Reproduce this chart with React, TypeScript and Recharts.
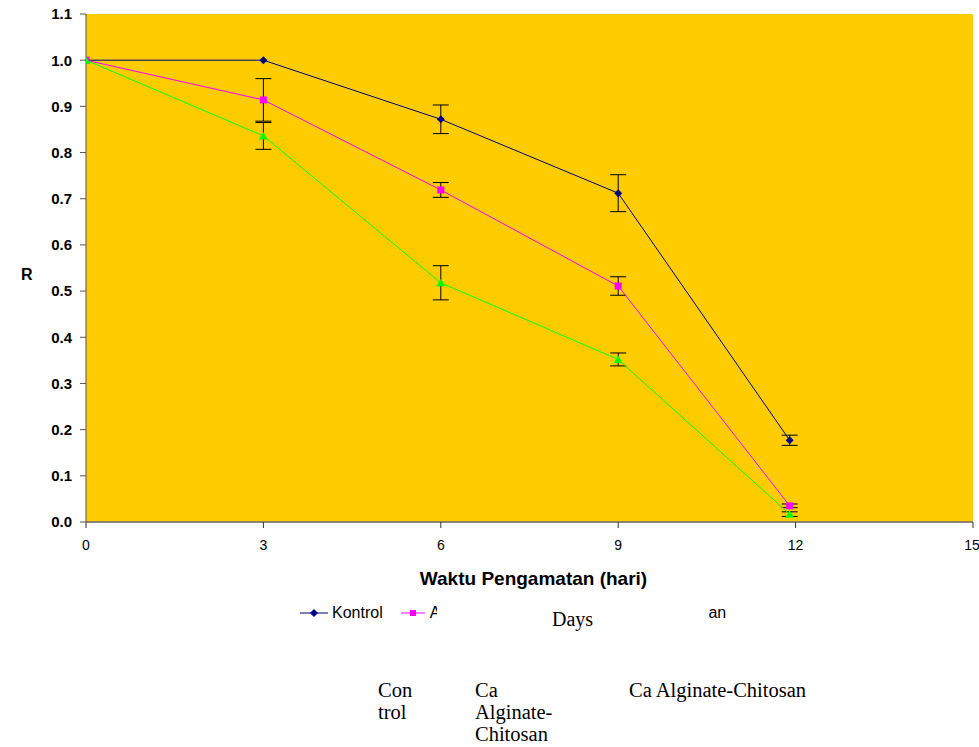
import React from "react";
import {
  LineChart,
  Line,
  XAxis,
  YAxis,
  CartesianGrid,
  ErrorBar,
} from "recharts";

// observation days (last point sits a touch left of 12 in the original)
const days = [0, 3, 6, 9, 11.9];

const kontrol = [1.0, 1.0, 0.872, 0.712, 0.177];
const kontrolSd = [0, 0, 0.031, 0.04, 0.011];

const alginat = [1.0, 0.914, 0.719, 0.511, 0.035];
const alginatSd = [0, 0.046, 0.016, 0.02, 0.004];

const alginatKitosan = [1.0, 0.836, 0.518, 0.352, 0.017];
const alginatKitosanSd = [0, 0.029, 0.037, 0.014, 0.005];

const xTicks = [0, 3, 6, 9, 12, 15];
const yTicks = [0, 0.1, 0.2, 0.3, 0.4, 0.5, 0.6, 0.7, 0.8, 0.9, 1.0, 1.1];

const legendNames = ["Kontrol", "Alginat", "Alginat-Kitosan"];

const toSeries = (vals: number[], sd: number[]) =>
  days.map((d, i) => ({ day: d, value: vals[i], sd: sd[i] }));

const NAVY = "#000080";
const MAGENTA = "#FF00FF";
const GREEN = "#00FF00";

const Diamond = (props: any) => {
  const { cx, cy, index } = props;
  if (cx == null || cy == null) return <g key={`d-${index}`} />;
  return (
    <polygon
      key={`d-${index}`}
      points={`${cx},${cy - 4} ${cx + 4},${cy} ${cx},${cy + 4} ${cx - 4},${cy}`}
      fill={NAVY}
    />
  );
};

const Square = (props: any) => {
  const { cx, cy, index } = props;
  if (cx == null || cy == null) return <g key={`s-${index}`} />;
  return <rect key={`s-${index}`} x={cx - 3.5} y={cy - 3.5} width={7} height={7} fill={MAGENTA} />;
};

const Triangle = (props: any) => {
  const { cx, cy, index } = props;
  if (cx == null || cy == null) return <g key={`t-${index}`} />;
  return (
    <polygon
      key={`t-${index}`}
      points={`${cx},${cy - 4} ${cx + 4.5},${cy + 3.5} ${cx - 4.5},${cy + 3.5}`}
      fill={GREEN}
    />
  );
};

function LegendMark({ color, shape, width }: { color: string; shape: string; width: number }) {
  const c = width / 2;
  return (
    <svg width={width} height={10} style={{ display: "block" }}>
      <line x1={0} y1={5} x2={width} y2={5} stroke={color} strokeWidth={1} />
      {shape === "diamond" && (
        <polygon points={`${c},1 ${c + 4},5 ${c},9 ${c - 4},5`} fill={color} />
      )}
      {shape === "square" && <rect x={c - 3} y={2} width={6} height={6} fill={color} />}
      {shape === "triangle" && (
        <polygon points={`${c},1 ${c + 4},8 ${c - 4},8`} fill={color} />
      )}
    </svg>
  );
}

const serif = "'Liberation Serif', 'Times New Roman', serif";
const sans = "'Liberation Sans', Arial, sans-serif";

const noteStyle: React.CSSProperties = {
  position: "absolute",
  top: 679,
  fontFamily: serif,
  fontSize: 20.5,
  lineHeight: "22px",
  whiteSpace: "nowrap",
};

export default function App() {
  return (
    <div style={{ position: "absolute", left: 0, top: 0, width: 979, height: 747, background: "#fff", overflow: "hidden" }}>
      <LineChart
        width={979}
        height={747}
        margin={{ top: 14, right: 6, left: 0, bottom: 162 }}
      >
        <CartesianGrid fill="#FFCC00" stroke="none" horizontal={false} vertical={false} />
        <XAxis
          type="number"
          dataKey="day"
          domain={[0, 15]}
          ticks={xTicks}
          allowDataOverflow
          height={63}
          tickSize={6}
          tickMargin={12}
          axisLine={{ stroke: "#666", strokeWidth: 1.5 }}
          tickLine={{ stroke: "#333" }}
          tick={{ fontSize: 14, fill: "#000", fontFamily: sans }}
          label={{
            value: "Waktu Pengamatan (hari)",
            position: "insideBottom",
            offset: 0,
            dx: 4,
            style: { fontSize: 19, fontWeight: "bold", fill: "#000", fontFamily: sans },
          }}
        />
        <YAxis
          type="number"
          domain={[0, 1.1]}
          ticks={yTicks}
          width={86}
          tickSize={6}
          tickMargin={8}
          axisLine={{ stroke: "#555" }}
          tickLine={{ stroke: "#555" }}
          tickFormatter={(v: number) => v.toFixed(1)}
          tick={{ fontSize: 15, fontWeight: "bold", fill: "#000", fontFamily: sans }}
          label={{
            value: "R",
            position: "insideLeft",
            offset: 21,
            dy: 6,
            style: { fontSize: 16, fontWeight: "bold", fill: "#000", fontFamily: sans },
          }}
        />
        <Line
          data={toSeries(kontrol, kontrolSd)}
          dataKey="value"
          name={legendNames[0]}
          stroke={NAVY}
          strokeWidth={1}
          dot={Diamond}
          activeDot={false}
          isAnimationActive={false}
        >
          <ErrorBar dataKey="sd" width={8} stroke="#000" strokeWidth={1} direction="y" />
        </Line>
        <Line
          data={toSeries(alginat, alginatSd)}
          dataKey="value"
          name={legendNames[1]}
          stroke={MAGENTA}
          strokeWidth={1}
          dot={Square}
          activeDot={false}
          isAnimationActive={false}
        >
          <ErrorBar dataKey="sd" width={8} stroke="#000" strokeWidth={1} direction="y" />
        </Line>
        <Line
          data={toSeries(alginatKitosan, alginatKitosanSd)}
          dataKey="value"
          name={legendNames[2]}
          stroke={GREEN}
          strokeWidth={1}
          dot={Triangle}
          activeDot={false}
          isAnimationActive={false}
        >
          <ErrorBar dataKey="sd" width={8} stroke="#000" strokeWidth={1} direction="y" />
        </Line>
      </LineChart>

      {/* legend row */}
      <div style={{ position: "absolute", left: 300, top: 603, display: "flex", alignItems: "center", fontFamily: sans, fontSize: 16, lineHeight: "20px" }}>
        <LegendMark color={NAVY} shape="diamond" width={28} />
        <span style={{ marginLeft: 4 }}>{legendNames[0]}</span>
        <span style={{ width: 18 }} />
        <LegendMark color={MAGENTA} shape="square" width={24} />
        <span style={{ marginLeft: 5 }}>{legendNames[1]}</span>
        <span style={{ width: 111 }} />
        <LegendMark color={GREEN} shape="triangle" width={24} />
        <span style={{ marginLeft: 5 }}>{legendNames[2]}</span>
      </div>

      {/* pasted text box covering part of the legend */}
      <div style={{ position: "absolute", left: 437, top: 600, width: 272, height: 28, background: "#fff" }} />
      <div style={{ position: "absolute", left: 552, top: 607, fontFamily: serif, fontSize: 20, lineHeight: "24px" }}>
        Days
      </div>

      <div style={{ ...noteStyle, left: 378 }}>
        Con<br />trol
      </div>
      <div style={{ ...noteStyle, left: 475 }}>
        Ca<br />Alginate-<br />Chitosan
      </div>
      <div style={{ ...noteStyle, left: 629 }}>Ca Alginate-Chitosan</div>
    </div>
  );
}
